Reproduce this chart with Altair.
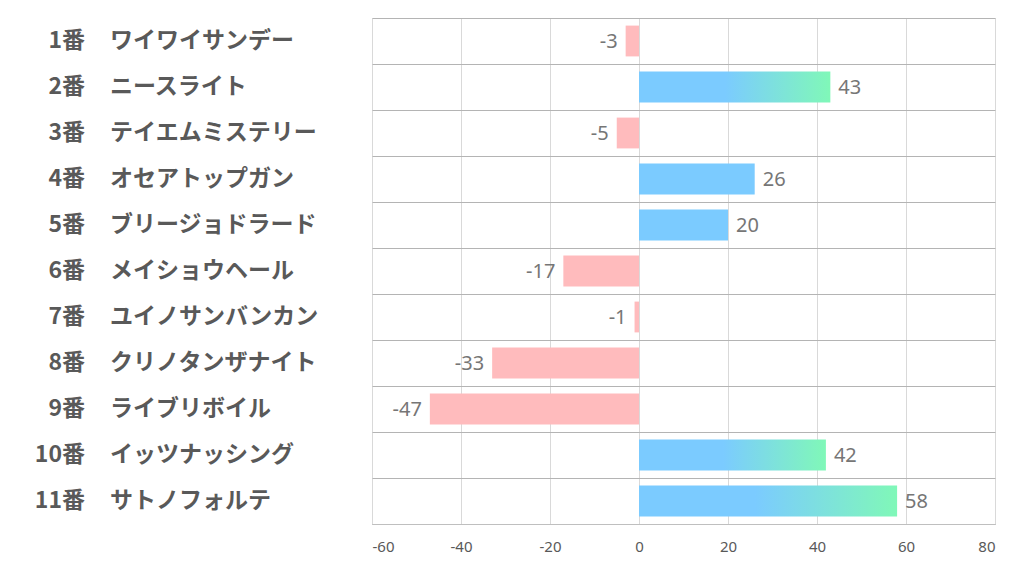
import altair as alt
import pandas as pd

nums = ["1番", "2番", "3番", "4番", "5番", "6番", "7番", "8番", "9番", "10番", "11番"]
names = ["ワイワイサンデー", "ニースライト", "テイエムミステリー", "オセアトップガン",
         "ブリージョドラード", "メイショウヘール", "ユイノサンバンカン", "クリノタンザナイト",
         "ライブリボイル", "イッツナッシング", "サトノフォルテ"]
values = [-3, 43, -5, 26, 20, -17, -1, -33, -47, 42, 58]

df = pd.DataFrame({"num": nums, "name": names, "value": values})
df["key"] = df["num"]
df["label"] = [str(v) for v in values]

BLUE = "#7BCBFF"
GREEN = "#80F8B8"
PINK = "#FFBBBD"
LBL = "#595959"

yenc = alt.Y("key:N", sort=nums, scale=alt.Scale(paddingInner=0, paddingOuter=0),
             axis=alt.Axis(grid=True, tickBand="extent", labels=False, ticks=False,
                           domain=False, title=None, gridColor="#b4b4b4", gridWidth=1))
xscale = alt.Scale(domain=[-60, 80], nice=False)
xenc = alt.X("value:Q", scale=xscale,
             axis=alt.Axis(values=[-60, -40, -20, 0, 20, 40, 60, 80], grid=True,
                           gridColor="#d9d9d9", ticks=False, domainColor="#bfbfbf",
                           labelColor=LBL, labelFontSize=15, labelFont="Noto Sans",
                           labelExpr="toString(datum.value)",
                           labelPadding=15, title=None))

base = alt.Chart(df)

grad = alt.LinearGradient(
    gradient="linear", x1=0, x2=1, y1=0, y2=0,
    stops=[alt.GradientStop(color=BLUE, offset=0),
           alt.GradientStop(color=BLUE, offset=0.45),
           alt.GradientStop(color=GREEN, offset=1)])

ysimple = alt.Y("key:N", sort=nums)

bars_pos = base.transform_filter("datum.value >= 0 && datum.value < 40").mark_bar(
    color=BLUE, height={"band": 0.67}).encode(x=xenc, x2=alt.datum(0), y=yenc)
bars_grad = base.transform_filter("datum.value >= 40").mark_bar(
    color=grad, height={"band": 0.67}).encode(x="value:Q", x2=alt.datum(0), y=ysimple)
bars_neg = base.transform_filter("datum.value < 0").mark_bar(
    color=PINK, height={"band": 0.67}).encode(x="value:Q", x2=alt.datum(0), y=ysimple)

lab_pos = base.transform_filter("datum.value >= 0").mark_text(
    align="left", baseline="middle", dx=8, dy=1, fontSize=20, font="Noto Sans", color="#767676").encode(
    x="value:Q", y=ysimple, text="label:N")
lab_neg = base.transform_filter("datum.value < 0").mark_text(
    align="right", baseline="middle", dx=-8, dy=1, fontSize=20, font="Noto Sans", color="#767676").encode(
    x="value:Q", y=ysimple, text="label:N")

num_txt = base.mark_text(align="right", baseline="middle", fontSize=23, fontWeight="bold",
                         font="Noto Sans CJK JP", color=LBL).encode(
    x=alt.value(-287), y=ysimple, text="num:N")
name_txt = base.mark_text(align="left", baseline="middle", fontSize=23, fontWeight="bold",
                          font="Noto Sans CJK JP", color=LBL).encode(
    x=alt.value(-262), y=ysimple, text="name:N")

chart = alt.layer(bars_pos, bars_grad, bars_neg, lab_pos, lab_neg, num_txt, name_txt).properties(
    width=623, height=506,
    autosize=alt.AutoSizeParams(type="none"),
    padding={"left": 364, "top": 10, "right": 10, "bottom": 40},
).configure_view(stroke=None).configure(background="white")

chart.save("out.html", embed_options={"renderer": "svg", "actions": False})
